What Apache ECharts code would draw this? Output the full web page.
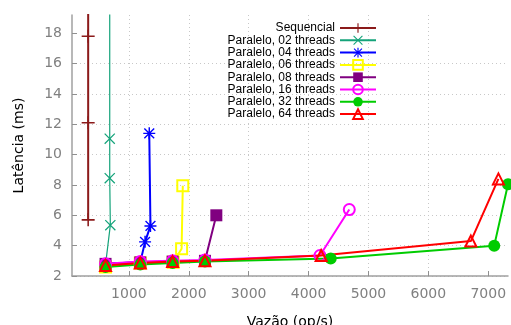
<!DOCTYPE html>
<html>
<head>
<meta charset="utf-8">
<script src="https://cdn.jsdelivr.net/npm/echarts@6/dist/echarts.min.js"></script>
<style>
  html, body { margin: 0; padding: 0; background: #fff; }
  #chart { width: 511px; height: 325px; }
</style>
</head>
<body>
<div id="chart"></div>
<script>
// data: [throughput op/s, latency ms]
const sequencial = [[320, 5.7], [320, 12.1], [320, 17.8], [320, 30]];
const threads02 = [[610, 2.75], [690, 5.35], [680, 8.45], [680, 11.05], [680, 30]];
const threads04 = [[610, 2.8], [1190, 2.9], [1270, 4.25], [1360, 5.3], [1340, 11.4]];
const threads06 = [[610, 2.6], [1190, 2.85], [1740, 2.9], [1880, 3.8], [1900, 7.95]];
const threads08 = [[610, 2.8], [1190, 2.9], [1730, 2.95], [2270, 3.0], [2460, 6.0]];
const threads16 = [[610, 2.8], [1190, 2.95], [1730, 3.0], [2270, 3.05], [4190, 3.35], [4680, 6.38]];
const threads32 = [[610, 2.6], [1190, 2.75], [1730, 2.85], [2270, 2.95], [4370, 3.15], [7100, 4.0], [7330, 8.05]];
const threads64 = [[610, 2.7], [1190, 2.85], [1730, 2.95], [2270, 3.0], [4210, 3.35], [6710, 4.3], [7170, 8.4]];

const names = ['Sequencial', 'Paralelo, 02 threads', 'Paralelo, 04 threads', 'Paralelo, 06 threads',
  'Paralelo, 08 threads', 'Paralelo, 16 threads', 'Paralelo, 32 threads', 'Paralelo, 64 threads'];
const xTicks = [1000, 2000, 3000, 4000, 5000, 6000, 7000];
const yTicks = [2, 4, 6, 8, 10, 12, 14, 16, 18];

// gnuplot-like point shapes
const PLUS = 'path://M0,4.4H10V5.6H0Z M4.4,0H5.6V10H4.4Z';
const CROSS = 'path://M0,0.8L0.8,0L10,9.2L9.2,10Z M9.2,0L10,0.8L0.8,10L0,9.2Z';
const STAR = 'path://M0,4.4H10V5.6H0Z M4.4,0H5.6V10H4.4Z M0.5,1.3L1.3,0.5L9.5,8.7L8.7,9.5Z M8.7,0.5L9.5,1.3L1.3,9.5L0.5,8.7Z';

function line(name, data, color, symbol, size, opts) {
  opts = opts || {};
  return {
    name: name,
    type: 'line',
    data: data,
    symbol: symbol,
    symbolSize: size,
    showAllSymbol: true,
    clip: true,
    lineStyle: { color: color, width: opts.lw || 2 },
    itemStyle: opts.open
      ? { color: 'rgba(0,0,0,0)', borderColor: color, borderWidth: 2 }
      : { color: color, borderWidth: 0 },
    emphasis: { disabled: true },
    animation: false
  };
}

const series = [
  line(names[0], sequencial, '#8b1a1a', PLUS, 13, { lw: 2 }),
  line(names[1], threads02, '#14a37a', CROSS, 11, { lw: 1.2 }),
  line(names[2], threads04, '#0000ff', STAR, 12),
  line(names[3], threads06, '#ffff00', 'rect', 11, { open: true }),
  line(names[4], threads08, '#800080', 'rect', 12),
  line(names[5], threads16, '#ff00ff', 'circle', 11, { open: true }),
  line(names[6], threads32, '#00cc00', 'circle', 12),
  line(names[7], threads64, '#ff0000', 'triangle', 11, { open: true })
];

const gridLine = { show: true, showMaxLine: false, lineStyle: { color: '#c8c8c8', type: [1, 3], width: 1 } };
const axisLine = { show: true, onZero: false, lineStyle: { color: '#a0a0a0', width: 1.5 } };
const tickFont = { color: '#808080', fontFamily: 'DejaVu Sans', fontSize: 14, formatter: v => String(v) };

const chart = echarts.init(document.getElementById('chart'), null, { renderer: 'canvas' });
chart.setOption({
  backgroundColor: '#fff',
  animation: false,
  grid: { left: 72, right: 3, top: 15, bottom: 49, containLabel: false, outerBoundsMode: 'none' },
  legend: {
    orient: 'vertical',
    right: 134,
    top: 22,
    padding: 0,
    align: 'right',
    itemWidth: 36,
    itemHeight: 12,
    itemGap: 0.3,
    data: names,
    textStyle: { color: '#000', fontFamily: 'Liberation Sans', fontSize: 12, lineHeight: 12 }
  },
  xAxis: {
    type: 'value',
    min: 50,
    max: 7330,
    name: 'Vazão (op/s)',
    nameLocation: 'middle',
    nameGap: 39,
    nameTextStyle: { color: '#000', fontFamily: 'DejaVu Sans', fontSize: 14 },
    axisLine: axisLine,
    axisTick: { show: true, inside: true, length: 5, customValues: xTicks, lineStyle: { color: '#909090' } },
    axisLabel: Object.assign({ margin: 11, customValues: xTicks }, tickFont),
    splitLine: gridLine
  },
  yAxis: {
    type: 'value',
    min: 2,
    max: 19.2,
    name: 'Latência (ms)',
    nameLocation: 'middle',
    nameGap: 46,
    nameRotate: 90,
    nameTextStyle: { color: '#000', fontFamily: 'DejaVu Sans', fontSize: 14 },
    axisLine: axisLine,
    axisTick: { show: true, inside: true, length: 5, customValues: yTicks, lineStyle: { color: '#909090' } },
    axisLabel: Object.assign({ margin: 10, customValues: yTicks }, tickFont),
    splitLine: gridLine
  },
  series: series
});
</script>
</body>
</html>
